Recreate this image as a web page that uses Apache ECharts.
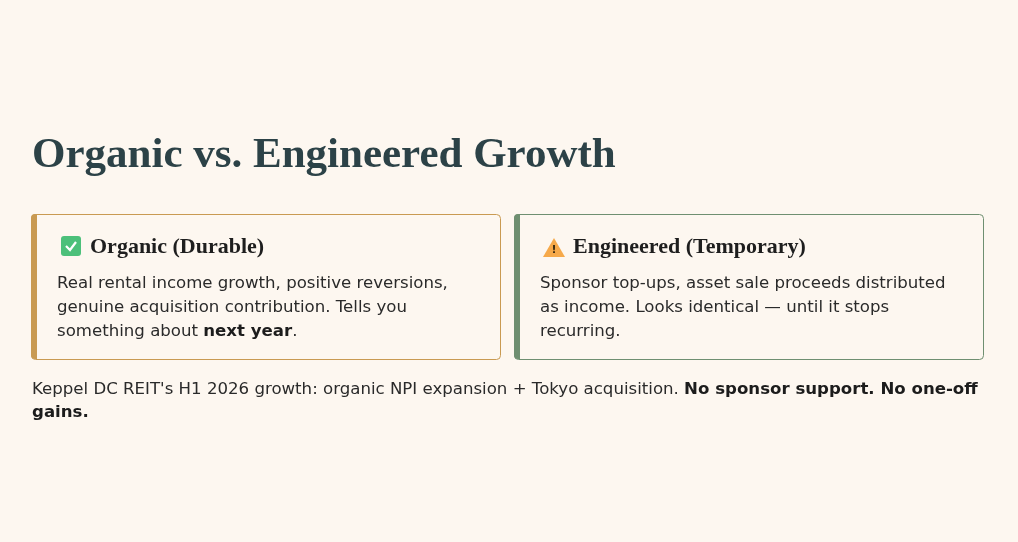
<!DOCTYPE html>
<html lang="en">
<head>
	<meta charset="UTF-8">
	<title>Organic vs. Engineered Growth</title>
	<script src="https://cdn.jsdelivr.net/npm/echarts@6/dist/echarts.min.js" type="text/javascript"></script>
	<style>
		html,body{margin:0;padding:0;background:#fdf7f0;}
		#main{width:1018px;height:542px;}
	</style>
</head>
<body>
<div id="main"></div>
<script>
	// 文本数据
	var titleText = 'Organic vs. Engineered Growth';
	var cardTitles = ['Organic (Durable)', 'Engineered (Temporary)'];
	var cardColors = ['#c99a52', '#6f8f71'];
	var cardLines = [
		['Real rental income growth, positive reversions,', 'genuine acquisition contribution. Tells you', '{n|something about }{b|next year}{n|.}'],
		['Sponsor top-ups, asset sale proceeds distributed', 'as income. Looks identical \u2014 until it stops', 'recurring.']
	];
	var footLines = [
		"{n|Keppel DC REIT's H1 2026 growth: organic NPI expansion + Tokyo acquisition. }{b|No sponsor support. No one-off}",
		'{b|gains.}'
	];

	var serif = '"Liberation Serif", "DejaVu Serif", serif';
	var sans = '"DejaVu Sans", "Noto Sans", sans-serif';
	var rich = {
		n: {font: '400 16.6px ' + sans, fill: '#2a2a2a'},
		b: {font: '700 16.6px ' + sans, fill: '#1c1c1c'}
	};

	function card(i, x){
		var els = [];
		var w = 469, h = 145, top = 214;
		els.push({type:'rect', left:x, top:top, shape:{width:w, height:h, r:4}, style:{fill:'#fdf7f0', stroke:cardColors[i], lineWidth:1}});
		els.push({type:'rect', left:x, top:top, shape:{width:6, height:h, r:[4,0,0,4]}, style:{fill:cardColors[i]}});
		// 图标
		if(i === 0){
			els.push({type:'rect', left:x+30, top:top+22, shape:{width:20, height:20, r:3}, style:{fill:'#4cc07a'}});
			els.push({type:'polyline', shape:{points:[[x+35,top+32],[x+39,top+36],[x+45,top+28]]}, style:{stroke:'#fff', lineWidth:2.2, fill:null}});
		} else {
			els.push({type:'polygon', shape:{points:[[x+40,top+24],[x+51,top+43],[x+29,top+43]]}, style:{fill:'#f6a94a'}});
			els.push({type:'text', x:x+40, y:top+36, style:{text:'!', font:'700 11px ' + sans, fill:'#3a2a10', align:'center', verticalAlign:'middle'}});
		}
		els.push({type:'text', x:x+59, y:top+33, style:{text:cardTitles[i], font:'700 22px ' + serif, fill:'#1e1e1e', verticalAlign:'middle'}});
		for(var k=0;k<cardLines[i].length;k++){
			var t = cardLines[i][k];
			if(t.indexOf('{') !== 0) t = '{n|' + t + '}';
			els.push({type:'text', x:x+26, y:top+70+k*24, style:{text:t, rich:rich, verticalAlign:'middle'}});
		}
		return els;
	}

	var myChart = echarts.init(document.getElementById('main'));
	var graphic = [];
	graphic.push({type:'text', x:32, y:156, style:{text:titleText, font:'700 43px ' + serif, fill:'#2c4247', verticalAlign:'middle'}});
	graphic = graphic.concat(card(0, 31), card(1, 514));
	for(var j=0;j<footLines.length;j++){
		graphic.push({type:'text', x:32, y:390+j*23, style:{text:footLines[j], rich:rich, verticalAlign:'middle'}});
	}
	myChart.setOption({
		backgroundColor:'#fdf7f0',
		graphic: graphic
	});
</script>
</body>
</html>
